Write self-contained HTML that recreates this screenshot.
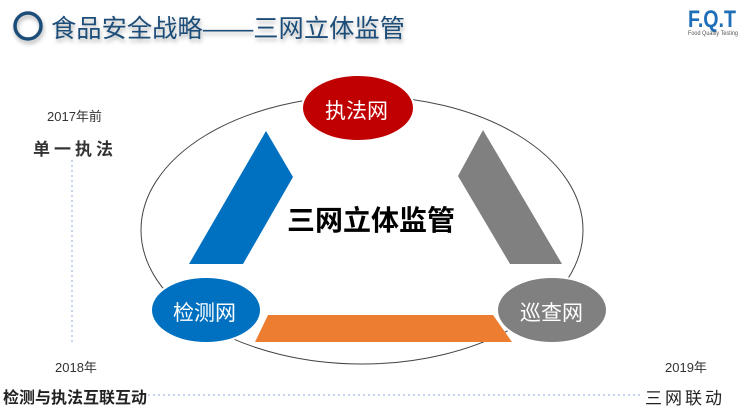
<!DOCTYPE html>
<html><head><meta charset="utf-8"><style>
html,body{margin:0;padding:0;background:#fff;}
body{width:741px;height:410px;position:relative;overflow:hidden;font-family:"Liberation Sans","Noto Sans CJK SC",sans-serif;}
.t{position:absolute;white-space:nowrap;}
</style></head><body>
<svg width="741" height="410" style="position:absolute;left:0;top:0">
<defs><filter id="sh" x="-20%" y="-20%" width="140%" height="160%"><feDropShadow dx="1" dy="3" stdDeviation="2" flood-color="#000" flood-opacity="0.3"/></filter></defs>
<circle cx="28" cy="26" r="13" fill="none" stroke="#1f4e79" stroke-width="3.5" filter="url(#sh)"/>
<text x="51" y="37" font-size="25" fill="#1f4e79" filter="url(#sh)" font-family="Liberation Sans, Noto Sans CJK SC, sans-serif" textLength="354" lengthAdjust="spacingAndGlyphs">食品安全战略——三网立体监管</text>
<text x="688" y="27" font-size="24" font-weight="bold" fill="#1f6fb8" font-family="Liberation Sans, sans-serif" textLength="48" lengthAdjust="spacingAndGlyphs">F.Q.T</text>
<text x="688" y="35" font-size="6" fill="#555" font-family="Liberation Sans, sans-serif" textLength="50" lengthAdjust="spacingAndGlyphs">Food Quality Testing</text>
<ellipse cx="362" cy="230" rx="221" ry="134" fill="none" stroke="#444" stroke-width="1"/>
<polygon points="266,131 293,177 243,264 189,264" fill="#0070c0"/>
<polygon points="483,130 458,176 510,264 562,264" fill="#808080"/>
<polygon points="268,315 493,315 512,342 255,342" fill="#ed7d31"/>
<ellipse cx="358" cy="108" rx="56" ry="33" fill="#c00000" stroke="#fff" stroke-width="2"/>
<ellipse cx="206" cy="310" rx="55" ry="33" fill="#0070c0" stroke="#fff" stroke-width="2"/>
<ellipse cx="552" cy="310" rx="55" ry="33" fill="#808080" stroke="#fff" stroke-width="2"/>
<line x1="72" y1="160" x2="72" y2="342" stroke="#8faadc" stroke-width="1" stroke-dasharray="2,3"/>
<line x1="148" y1="395" x2="640" y2="395" stroke="#8faadc" stroke-width="1" stroke-dasharray="2,3"/>
</svg>
<div class="t" style="left:325px;top:95px;font-size:21px;color:#fff;">执法网</div>
<div class="t" style="left:173px;top:297px;font-size:21px;color:#fff;">检测网</div>
<div class="t" style="left:520px;top:297px;font-size:21px;color:#fff;">巡查网</div>
<div class="t" style="left:287px;top:199px;font-size:28px;font-weight:bold;color:#000;">三网立体监管</div>
<div class="t" style="left:47px;top:106px;font-size:13px;color:#333;">2017年前</div>
<div class="t" style="left:33px;top:135px;font-size:17px;font-weight:bold;color:#333;letter-spacing:4px;">单一执法</div>
<div class="t" style="left:55px;top:357px;font-size:13px;color:#333;">2018年</div>
<div class="t" style="left:3px;top:384px;font-size:16px;font-weight:bold;color:#222;">检测与执法互联互动</div>
<div class="t" style="left:665px;top:357px;font-size:13px;color:#333;">2019年</div>
<div class="t" style="left:645px;top:384px;font-size:17px;color:#222;letter-spacing:3px;">三网联动</div>
</body></html>
